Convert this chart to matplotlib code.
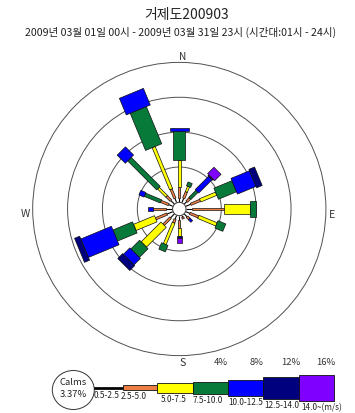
import numpy as np
import matplotlib
matplotlib.use("Agg")
import matplotlib.pyplot as plt
from matplotlib.patches import Polygon, Circle, Ellipse

plt.rcParams['font.family'] = ['Noto Sans CJK KR', 'DejaVu Sans']

# ---------------------------------------------------------------- data
title = '거제도200903'
subtitle = '2009년 03월 01일 00시 - 2009년 03월 31일 23시 (시간대:01시 - 24시)'

directions = ['N', 'NNE', 'NE', 'ENE', 'E', 'ESE', 'SE', 'SSE',
              'S', 'SSW', 'SW', 'WSW', 'W', 'WNW', 'NW', 'NNW']
compass_labels = ['N', 'E', 'S', 'W']
speed_classes = ['0.5-2.5', '2.5-5.0', '5.0-7.5', '7.5-10.0',
                 '10.0-12.5', '12.5-14.0', '14.0~(m/s)']

# frequency (%) per direction for each wind-speed class
freq_05_25 = [0.50, 0.50, 0.40, 0.60, 0.60, 0.50, 0.45, 0.20,
              0.50, 0.45, 0.60, 0.70, 0.70, 0.50, 0.55, 0.50]
freq_25_50 = [1.17, 0.80, 0.50, 1.17, 3.75, 1.04, 0.35, 0.20,
              0.90, 0.45, 1.13, 1.41, 1.47, 0.97, 0.70, 1.14]
freq_50_75 = [3.13, 0.67, 0.00, 1.99, 2.94, 2.26, 0.00, 0.00,
              0.85, 2.64, 3.21, 2.60, 0.00, 0.00, 1.32, 5.23]
freq_75_100 = [3.37, 0.47, 1.15, 2.24, 0.65, 0.97, 0.00, 0.00,
               0.00, 0.80, 1.41, 2.43, 0.00, 1.98, 4.70, 4.61]
freq_100_125 = [0.27, 0.00, 2.18, 2.30, 0.00, 0.00, 0.40, 0.00,
                0.00, 0.00, 1.04, 3.80, 0.57, 0.63, 1.32, 2.06]
freq_125_140 = [0.00, 0.00, 0.12, 0.70, 0.00, 0.00, 0.00, 0.00,
                0.25, 0.00, 0.80, 0.63, 0.00, 0.00, 0.00, 0.00]
freq_140_up = [0.00, 0.00, 1.03, 0.00, 0.00, 0.00, 0.00, 0.00,
               0.58, 0.00, 0.00, 0.00, 0.00, 0.00, 0.00, 0.00]
calm_pct = 3.37
ring_pct = [4, 8, 12, 16]

# ---------------------------------------------------------------- style
class_colors = ['#000000', '#EC7E45', '#FFFF00', '#077A3A',
                '#0000FF', '#00007E', '#8000FF']
# drawn bar thickness (px) of each class segment, per direction
seg_width = [
    [1, 2.3, 3.0, 11.7, 19.0, 19.0, 10],   # N
    [1, 2.3, 2.2, 4.5, 5, 6, 8],           # NNE
    [1, 2.3, 2.5, 3.0, 5.0, 7.0, 10.0],    # NE
    [1, 2.3, 3.5, 12.0, 17.0, 20.0, 10],   # ENE
    [1, 2.3, 10.7, 16.0, 18, 20, 20],      # E
    [1, 2.3, 3.5, 8.0, 10, 10, 10],        # ESE
    [1, 2.3, 3, 3, 2.5, 3, 3],             # SE
    [1, 2.3, 3, 3, 3, 3, 3],               # SSE
    [1, 2.3, 2.5, 4, 5, 5.5, 5.5],         # S
    [1, 2.3, 3.0, 7.0, 8, 8, 8],           # SSW
    [1, 2.3, 7.5, 12.0, 15.0, 17.0, 17],   # SW
    [1, 2.3, 6.7, 12.0, 20.0, 26.0, 26],   # WSW
    [1, 2.3, 3, 3, 4.5, 5, 5],             # W
    [1, 2.3, 3, 3.5, 5.0, 5, 5],           # WNW
    [1, 2.3, 2.5, 5.0, 11.7, 12, 12],      # NW
    [1, 2.3, 3.3, 17.5, 26.0, 26, 26],     # NNW
]

W_PX, H_PX = 355, 414
CX, CY = 179.3, 210.0          # rose centre (px)
R0, K = 7.1, 8.72              # radius of 0 % and px per 1 %


def radius(p):
    return R0 + K * p


fig = plt.figure(figsize=(W_PX / 100, H_PX / 100), dpi=100)
ax = fig.add_axes([0, 0, 1, 1])
ax.set_xlim(0, W_PX)
ax.set_ylim(H_PX, 0)
ax.axis('off')

# titles
ax.text(186.5, 15, title, ha='center', va='center', fontsize=10, color='#222222')
ax.text(180.5, 32, subtitle, ha='center', va='center', fontsize=7.6, color='#222222')

# range rings
for p in ring_pct:
    ax.add_patch(Circle((CX, CY), radius(p), fill=False, ec='#505050', lw=0.7, zorder=1))
    ax.text(CX + radius(p), 362.5, f'{p}%', ha='center', va='center', fontsize=6.8,
            color='#333333')

# compass letters
ax.text(182.5, 56.5, compass_labels[0], ha='center', va='center', fontsize=7.2, color='#333333')
ax.text(331.5, 215, compass_labels[1], ha='center', va='center', fontsize=7.6, color='#333333')
ax.text(182.3, 363, compass_labels[2], ha='center', va='center', fontsize=7.6, color='#333333')
ax.text(25, 214.5, compass_labels[3], ha='center', va='center', fontsize=7.6, color='#333333')

# stacked bars
table = np.array([freq_05_25, freq_25_50, freq_50_75, freq_75_100,
                  freq_100_125, freq_125_140, freq_140_up]).T
for i, row in enumerate(table):
    theta = np.deg2rad(22.5 * i)
    u = np.array([np.sin(theta), -np.cos(theta)])
    v = np.array([np.cos(theta), np.sin(theta)])
    c = np.array([CX, CY])
    cum = 0.0
    for k, val in enumerate(row):
        if val <= 0:
            continue
        ra, rb = radius(cum), radius(cum + val)
        cum += val
        if k == 0:
            p1, p2 = c + u * ra, c + u * rb
            ax.plot([p1[0], p2[0]], [p1[1], p2[1]], color='black', lw=0.8,
                    solid_capstyle='butt', zorder=3)
            continue
        hw = seg_width[i][k] / 2
        pts = [c + u * ra - v * hw, c + u * rb - v * hw,
               c + u * rb + v * hw, c + u * ra + v * hw]
        ax.add_patch(Polygon(pts, closed=True, fc=class_colors[k], ec='#111111',
                             lw=0.5, zorder=3 + k * 0.01))

# calm circle in the middle
ax.add_patch(Circle((CX, CY), R0 - 0.4, fc='white', ec='#333333', lw=0.7, zorder=5))

# ---------------------------------------------------------------- legend
ax.add_patch(Ellipse((73.3, 391), 42, 39, fc='white', ec='#333333', lw=0.7))
ax.text(73.3, 382.5, 'Calms', ha='center', va='center', fontsize=6.8, color='#222222')
ax.text(73.3, 395, f'{calm_pct:.2f}%', ha='center', va='center', fontsize=6.8,
        color='#222222')

leg_edges = [94, 123.3, 157.3, 192.7, 228.3, 263.3, 299, 334]
leg_heights = [2, 5, 10, 13, 16.7, 21.7, 26.7]
leg_text_x = [93.3, 121, 160.5, 193.0, 228.8, 264.0, 301.0]
leg_y = 389
for k, name in enumerate(speed_classes):
    x0, x1 = leg_edges[k], leg_edges[k + 1]
    h = leg_heights[k]
    ax.add_patch(Polygon([(x0, leg_y - h / 2), (x1, leg_y - h / 2),
                          (x1, leg_y + h / 2), (x0, leg_y + h / 2)], closed=True,
                         fc=class_colors[k], ec='#111111', lw=0.6, zorder=3))
    ax.text(leg_text_x[k], leg_y + h / 2 + 5.4, name, ha='left', va='center',
            fontsize=5.9, color='#222222', zorder=4)

fig.savefig('out.png', dpi=100)
